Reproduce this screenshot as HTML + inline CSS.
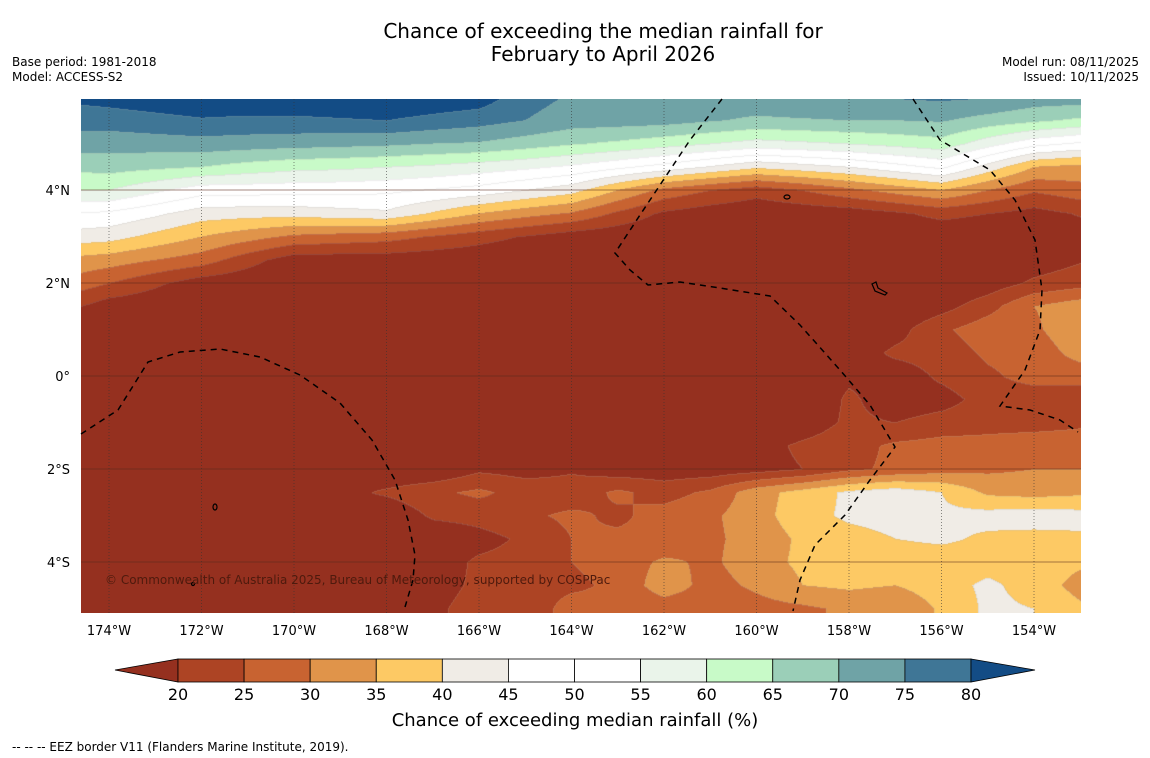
<!DOCTYPE html>
<html><head><meta charset="utf-8">
<style>
html,body{margin:0;padding:0;background:#fff;}
#wrap{position:relative;width:1150px;height:758px;overflow:hidden;font-family:"DejaVu Sans","Liberation Sans",sans-serif;}
#field{position:absolute;left:81px;top:99px;}
svg{position:absolute;left:0;top:0;font-family:"DejaVu Sans","Liberation Sans",sans-serif;}
</style></head>
<body>
<div id="wrap">
<canvas id="field" width="1000" height="514"></canvas>
<svg id="ov" width="1150" height="758">
  <text x="603" y="38" font-size="20" text-anchor="middle">Chance of exceeding the median rainfall for</text>
  <text x="603" y="61" font-size="20" text-anchor="middle">February to April 2026</text>
  <text x="12" y="66" font-size="12">Base period: 1981-2018</text>
  <text x="12" y="81" font-size="12">Model: ACCESS-S2</text>
  <text x="1139" y="66" font-size="12" text-anchor="end">Model run: 08/11/2025</text>
  <text x="1139" y="81" font-size="12" text-anchor="end">Issued: 10/11/2025</text>
  <g id="grid"></g>
  <g id="eez" fill="none" stroke="#000" stroke-width="1.5" stroke-dasharray="6,5">
    <polyline points="81,434 118,410 148,362 180,352 220,349 260,357 300,375 340,403 372,440 395,480 408,520 415,555 413,580 405,607"/>
    <polyline points="722,99 690,140 660,185 640,215 615,253 630,270 648,285 680,282 720,288 770,296 800,325 840,370 870,405 895,447 870,480 845,515 815,545 800,580 793,611"/>
    <polyline points="913,99 940,140 965,155 990,170 1015,200 1035,240 1042,290 1040,330 1025,370 1000,406 1030,410 1060,420 1078,432"/>
  </g>
  <g fill="none" stroke="#000" stroke-width="1.2">
    <ellipse cx="787" cy="197" rx="3" ry="2"/>
    <path d="M872 284 l4 -2 l2 6 l9 5 l-2 2 l-10 -4z"/>
    <ellipse cx="215" cy="507" rx="2" ry="3"/>
    <circle cx="193" cy="584" r="1.5"/>
  </g>
  <text x="105" y="584" font-size="12" fill="#4e1a0d">© Commonwealth of Australia 2025, Bureau of Meteorology, supported by COSPPac</text>
  <g id="axes" font-size="13"></g>
  <g id="cbar"></g>
  <text x="575" y="726" font-size="18" text-anchor="middle">Chance of exceeding median rainfall (%)</text>
  <text x="12" y="751" font-size="12">--  --  -- EEZ border V11 (Flanders Marine Institute, 2019).</text>
</svg>
</div>
<script>
const lons = [-175,-174,-173,-172,-171,-170,-169,-168,-167,-166,-165,-164,-163,-162,-161,-160,-159,-158,-157,-156,-155,-154,-153];
const lats = [6,5.5,5,4.5,4,3.5,3,2.5,2,1.5,1,0.5,0,-0.5,-1,-1.5,-2,-2.5,-3,-3.5,-4,-4.5,-5];
const values = [
[81,82,83,84,84,84,84.5,85,84,83,77,74.5,73.5,74,74,74,75,75.5,75.5,76,75.5,73,73],
[77,77.5,78.5,79.5,79,79,79.5,80,78.5,77,75,72.5,72.3,72,70.5,69,69.5,70,70,70.5,68,66,64],
[73,72,72.5,73,72.5,72,71.5,71,70,69.5,67.5,65.5,64,62,60,58,59,60,61.5,63,57,51.5,49],
[66,67,66,65,63,61.5,61,60,59,57.5,56,54,51,48,44.5,41,43,45,48,51,43,35,33.5],
[60,60,56,52,52,51.7,51.5,51,49.5,48,45,42,35,28.5,25,22,25,28.6,32,35,30,25.6,28],
[50,49,46,42.5,42,42,43,44,39.5,35,32,29.5,24,19,17,16,16.5,17,19,21.5,20,18,20.5],
[43,42,38.5,35,32,29,28,27,24.5,22,19.5,17,16,15,15,15,15,15,15.5,16,15.5,16,17],
[34,32.5,30,27.5,22,17,17,17,16.5,16,15,15,15,15,15,15,15,15,15,15,16,17,19.5],
[29,25,21,17,16,15,15,15,15,15,15,15,15,15,15,15,15,15,15,15,17,21,23],
[22,17,16,15,15,15,15,15,15,15,15,15,15,15,15,15,15,15,15,18,23,30,33],
[18,15,15,15,15,15,15,15,15,15,15,15,15,15,15,15,15,15,18,24,28,29,34],
[15,15,15,15,15,15,15,15,15,15,15,15,15,15,15,15,15,17,21,22,26,27,32],
[15,15,15,15,15,15,15,15,15,15,15,15,15,15,15,15,15,19,17,21,24,27,27],
[15,15,15,15,15,15,15,15,15,15,15,15,15,15,15,15,15,21,17,18,22,22,22],
[15,15,15,15,15,15,15,15,15,15,15,15,15,15,15,15,17,21,20,22,23,23,24],
[15,15,15,15,15,15,15,15,15,15,15,15,15,15,16,18,21,23,26,27,27,28,28],
[15,15,15,15,15,15,15,15,15,19,18,19.5,17,17,17,18,20,24,26,28,29,30,30],
[15,15,15,15,15,15,18,21,24,26,23,22,26,23,26,33,37,41,43,40,34,33,34],
[15,15,15,15,15,15,15,15,21,22,24,26,24,27,29,33,38,41,42,41,42,43,42],
[15,15,15,15,15,15,15,15,15,18,21,25,26,26,29,32,36,38,40,41,39,38,39],
[15,15,15,15,15,15,15,15,17,21,22,25,27,31,29,33,36,37,37,37,38,38,36],
[15,15,15,15,15,15,15,15,18,21,23,24,26,33,28,31,35,36,35,38,41,38,33],
[15,15,15,15,15,15,15,16,19,22,22,27,26,27,27,28,29,31,30,36,41,40,36]
];
const levels = [20,25,30,35,40,45,50,55,60,65,70,75,80];
const colors = ["#95301f","#ad4424","#c86331","#e0944a","#fdc964","#f0ece6","#ffffff","#ffffff","#eaf4ea","#c8fac8","#9bcfb8","#6fa3a6","#3f7696","#134c85"];
const lonTicks = [-174,-172,-170,-168,-166,-164,-162,-160,-158,-156,-154];
const latTicks = [4,2,0,-2,-4];

function xOf(lon){return 109+(lon+174)*46.25;}
function yOf(lat){return 376-lat*46.5;}
function lonOf(x){return -174+(x-109)/46.25;}
function latOf(y){return (376-y)/46.5;}
function sample(lon,lat){
  let fi=(lon-lons[0])/(lons[1]-lons[0]);
  fi=Math.max(0,Math.min(lons.length-1.0001,fi));
  let j=0; while(j<lats.length-2 && lat<lats[j+1]) j++;
  let fj=(lats[j]-lat)/(lats[j]-lats[j+1]); fj=Math.max(0,Math.min(1,fj));
  const i=Math.floor(fi), tx=fi-i;
  const a=values[j][i],b=values[j][i+1],c=values[j+1][i],d=values[j+1][i+1];
  return (a*(1-tx)+b*tx)*(1-fj)+(c*(1-tx)+d*tx)*fj;
}
function cls(v){let k=0;while(k<levels.length&&v>=levels[k])k++;return k;}
function hex(h){return [parseInt(h.substr(1,2),16),parseInt(h.substr(3,2),16),parseInt(h.substr(5,2),16)];}
const rgb=colors.map(hex);
(function draw(){
  const cv=document.getElementById('field'),ctx=cv.getContext('2d');
  const W=cv.width,H=cv.height,img=ctx.createImageData(W,H);
  const C=new Int8Array(W*H);
  for(let y=0;y<H;y++)for(let x=0;x<W;x++){C[y*W+x]=cls(sample(lonOf(x+81.5),latOf(y+99.5)));}
  for(let y=0;y<H;y++)for(let x=0;x<W;x++){
    const k=C[y*W+x];let c=rgb[k];
    let edge=(x>0&&C[y*W+x-1]!==k)||(y>0&&C[(y-1)*W+x]!==k);
    const p=(y*W+x)*4;
    if(edge){img.data[p]=c[0]*0.8+170*0.2;img.data[p+1]=c[1]*0.8+170*0.2;img.data[p+2]=c[2]*0.8+170*0.2;}
    else{img.data[p]=c[0];img.data[p+1]=c[1];img.data[p+2]=c[2];}
    img.data[p+3]=255;
  }
  ctx.putImageData(img,0,0);
})();
const NS="http://www.w3.org/2000/svg";
function mk(tag,attrs,parent){const e=document.createElementNS(NS,tag);for(const k in attrs)e.setAttribute(k,attrs[k]);parent.appendChild(e);return e;}
const grid=document.getElementById('grid'),axes=document.getElementById('axes');
lonTicks.forEach(l=>{
  const x=xOf(l);
  const ln=mk('line',{x1:x,x2:x,y1:99,y2:613,stroke:"#333","stroke-opacity":0.7,"stroke-width":0.8,"stroke-dasharray":"1,2"},grid);
  
  
  const t=mk('text',{x:x,y:635,"text-anchor":"middle"},axes);
  t.textContent=Math.abs(l)+"°W";
  
  
});
latTicks.forEach(l=>{
  const y=yOf(l);
  const ln=mk('line',{x1:81,x2:1081,y1:y,y2:y,stroke:"#5a2a1a","stroke-opacity":0.55,"stroke-width":1},grid);
  
  
  const t=mk('text',{x:70,y:y+5,"text-anchor":"end"},axes);
  t.textContent=l===0?"0°":(Math.abs(l)+"°"+(l>0?"N":"S"));
  
  
});
const cb=document.getElementById('cbar');
const x0=178,x1=971,segW=(x1-x0)/(levels.length-1);
const lt=mk('polygon',{points:`115,670 ${x0},659 ${x0},682`,fill:colors[0],stroke:"#000","stroke-width":0.8},cb);


for(let i=0;i<levels.length-1;i++){
  const r=mk('rect',{x:x0+i*segW,y:659,width:segW,height:23,fill:colors[i+1],stroke:"#000","stroke-width":0.8},cb);
  
  
}
const rt=mk('polygon',{points:`${x1},659 1035,670 ${x1},682`,fill:colors[colors.length-1],stroke:"#000","stroke-width":0.8},cb);


levels.forEach((v,i)=>{
  const t=mk('text',{x:x0+i*segW,y:700,"text-anchor":"middle","font-size":16},cb);
  t.textContent=v;
  
  
});
</script>
</body></html>
